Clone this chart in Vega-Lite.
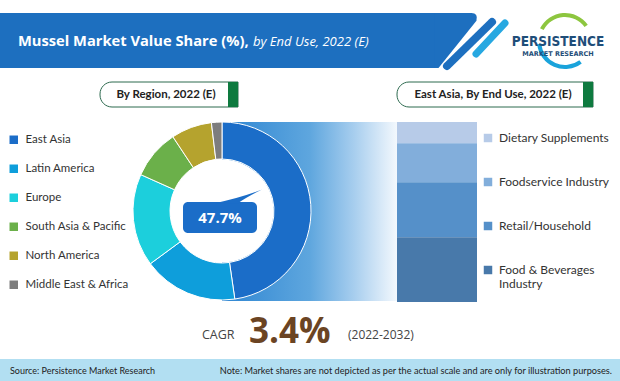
{
  "$schema": "https://vega.github.io/schema/vega-lite/v6.json",
  "width": 620,
  "height": 381,
  "autosize": "none",
  "padding": 0,
  "background": "white",
  "config": {"view": {"stroke": null}, "axis": {"disable": true}},
  "datasets": {
    "region": [
      {"region": "East Asia", "share": 47.7},
      {"region": "Latin America", "share": 17.2},
      {"region": "Europe", "share": 16.8},
      {"region": "South Asia & Pacific", "share": 9.0},
      {"region": "North America", "share": 7.4},
      {"region": "Middle East & Africa", "share": 1.9}
    ],
    "enduse": [
      {"use": "Dietary Supplements", "share": 11.8},
      {"use": "Foodservice Industry", "share": 21.7},
      {"use": "Retail/Household", "share": 30.5},
      {"use": "Food & Beverages Industry", "share": 36.0}
    ]
  },
  "layer": [
    {
      "layer": [
        {"data": {"values": [{}]}, "mark": {"type": "rect", "color": "#b2dff2"},
         "encoding": {"x": {"datum": 0, "type": "quantitative", "scale": {"domain": [0, 620], "range": [0, 620], "nice": false, "zero": false}}, "x2": {"datum": 620},
                      "y": {"datum": 359, "type": "quantitative", "scale": {"domain": [0, 381], "range": [0, 381], "nice": false, "zero": false}}, "y2": {"datum": 381}}},
        {"data": {"values": [{}]}, "mark": {"type": "rect", "color": "#1d6fbf"},
         "encoding": {"x": {"datum": 0, "type": "quantitative"}, "x2": {"datum": 437},
                      "y": {"datum": 13, "type": "quantitative"}, "y2": {"datum": 68}}},
        {"data": {"values": [{}]}, "mark": {"type": "point", "filled": true, "opacity": 1, "color": "#1d6fbf", "size": 3025, "strokeWidth": 0,
                  "shape": "M-0.75,-1 L0.6,-1 Q0.85,-1 0.78,-0.72 L-0.6,1 L-0.75,1 Z"},
         "encoding": {"x": {"datum": 455, "type": "quantitative"}, "y": {"datum": 40.5, "type": "quantitative"}}},
        {"data": {"values": [{}]}, "mark": {"type": "rule", "color": "#1d6fbf", "strokeWidth": 8, "strokeCap": "round"},
         "encoding": {"x": {"datum": 492, "type": "quantitative"}, "x2": {"datum": 447}, "y": {"datum": 22, "type": "quantitative"}, "y2": {"datum": 66}}},
        {"data": {"values": [{}]}, "mark": {"type": "rule", "color": "#27a8e1", "strokeWidth": 7, "strokeCap": "round"},
         "encoding": {"x": {"datum": 505, "type": "quantitative"}, "x2": {"datum": 476}, "y": {"datum": 23, "type": "quantitative"}, "y2": {"datum": 54}}},
        {"data": {"values": [{}]}, "mark": {"type": "arc", "color": "#8dc63f", "theta": -1.1, "theta2": 0.95, "innerRadius": 24, "outerRadius": 28},
         "encoding": {"x": {"datum": 565, "type": "quantitative"}, "y": {"datum": 41, "type": "quantitative"}}},
        {"data": {"values": [{}]}, "mark": {"type": "arc", "color": "#1aa3db", "theta": 2.5, "theta2": 4.6, "innerRadius": 24, "outerRadius": 28},
         "encoding": {"x": {"datum": 565, "type": "quantitative"}, "y": {"datum": 41, "type": "quantitative"}}},
        {"data": {"values": [{}]}, "mark": {"type": "text", "text": "PERSISTENCE", "font": "DejaVu Sans Condensed", "fontWeight": "bold", "fontSize": 13.5, "color": "#1f4e79", "align": "center", "baseline": "alphabetic"},
         "encoding": {"x": {"datum": 558, "type": "quantitative"}, "y": {"datum": 45.5, "type": "quantitative"}}},
        {"data": {"values": [{}]}, "mark": {"type": "text", "text": "MARKET RESEARCH", "font": "DejaVu Sans", "fontWeight": "bold", "fontSize": 6.5, "color": "#1f4e79", "align": "center", "baseline": "alphabetic"},
         "encoding": {"x": {"datum": 558, "type": "quantitative"}, "y": {"datum": 55.5, "type": "quantitative"}}},
        {"data": {"values": [{}]}, "mark": {"type": "text", "text": "Mussel Market Value Share (%),", "font": "Open Sans", "fontWeight": "bold", "fontSize": 14.7, "color": "white", "align": "left", "baseline": "alphabetic"},
         "encoding": {"x": {"datum": 18, "type": "quantitative"}, "y": {"datum": 46, "type": "quantitative"}}},
        {"data": {"values": [{}]}, "mark": {"type": "text", "text": "by End Use, 2022 (E)", "font": "Open Sans", "fontStyle": "italic", "fontSize": 13, "color": "white", "align": "left", "baseline": "alphabetic"},
         "encoding": {"x": {"datum": 253, "type": "quantitative"}, "y": {"datum": 46, "type": "quantitative"}}},
        {"data": {"values": [{}]}, "mark": {"type": "rect", "fill": "white", "stroke": "#2d6a4f", "strokeWidth": 1, "cornerRadiusTopLeft": 12, "cornerRadiusBottomLeft": 12},
         "encoding": {"x": {"datum": 100, "type": "quantitative"}, "x2": {"datum": 238}, "y": {"datum": 82, "type": "quantitative"}, "y2": {"datum": 107}}},
        {"data": {"values": [{}]}, "mark": {"type": "rect", "color": "#0e7a3f"},
         "encoding": {"x": {"datum": 228, "type": "quantitative"}, "x2": {"datum": 238}, "y": {"datum": 82, "type": "quantitative"}, "y2": {"datum": 107}}},
        {"data": {"values": [{}]}, "mark": {"type": "text", "text": "By Region, 2022 (E)", "font": "Lato", "fontWeight": "bold", "fontSize": 11.5, "color": "#222", "align": "center", "baseline": "middle"},
         "encoding": {"x": {"datum": 166, "type": "quantitative"}, "y": {"datum": 95, "type": "quantitative"}}},
        {"data": {"values": [{}]}, "mark": {"type": "rect", "fill": "white", "stroke": "#2d6a4f", "strokeWidth": 1, "cornerRadiusTopLeft": 12, "cornerRadiusBottomLeft": 12},
         "encoding": {"x": {"datum": 397, "type": "quantitative"}, "x2": {"datum": 593}, "y": {"datum": 82, "type": "quantitative"}, "y2": {"datum": 107}}},
        {"data": {"values": [{}]}, "mark": {"type": "rect", "color": "#0e7a3f"},
         "encoding": {"x": {"datum": 583, "type": "quantitative"}, "x2": {"datum": 593}, "y": {"datum": 82, "type": "quantitative"}, "y2": {"datum": 107}}},
        {"data": {"values": [{}]}, "mark": {"type": "text", "text": "East Asia, By End Use, 2022 (E)", "font": "Lato", "fontWeight": "bold", "fontSize": 11.5, "color": "#222", "align": "center", "baseline": "middle"},
         "encoding": {"x": {"datum": 493, "type": "quantitative"}, "y": {"datum": 95, "type": "quantitative"}}},
        {"data": {"values": [{}]}, "mark": {"type": "rect", "color": {"gradient": "linear", "x1": 0, "y1": 0, "x2": 1, "y2": 0,
                    "stops": [{"offset": 0, "color": "#2f86d2"}, {"offset": 0.5, "color": "#5ea6de"}, {"offset": 0.75, "color": "#a6cdee"}, {"offset": 1, "color": "#f3f8fd"}]}},
         "encoding": {"x": {"datum": 222, "type": "quantitative"}, "x2": {"datum": 397}, "y": {"datum": 122, "type": "quantitative"}, "y2": {"datum": 301}}},
        {"data": {"name": "region"},
         "mark": {"type": "arc", "outerRadius": 89, "innerRadius": 52, "stroke": "white", "strokeWidth": 1},
         "encoding": {
           "x": {"datum": 222, "type": "quantitative"},
           "y": {"datum": 211, "type": "quantitative"},
           "theta": {"field": "share", "type": "quantitative"},
           "order": {"field": "share", "type": "quantitative", "sort": "descending"},
           "color": {"field": "region", "type": "nominal",
             "scale": {"domain": ["East Asia", "Latin America", "Europe", "South Asia & Pacific", "North America", "Middle East & Africa"],
                       "range": ["#1b6dc8", "#0e9edb", "#1ccfdc", "#6bb04a", "#b5a32e", "#7d7d7d"]},
             "legend": {"orient": "none", "legendX": 8, "legendY": 134, "title": null, "padding": 0, "symbolType": "square", "symbolSize": 72, "symbolStrokeWidth": 0, "symbolOpacity": 1,
                        "labelFont": "Lato", "labelFontSize": 11.5, "labelColor": "#333", "labelOffset": 6, "rowPadding": 16}}
         }},
        {"data": {"values": [{}]}, "mark": {"type": "arc", "color": "white", "theta": 0, "theta2": 6.2832, "innerRadius": 0, "outerRadius": 51.5},
         "encoding": {"x": {"datum": 222, "type": "quantitative"}, "y": {"datum": 211, "type": "quantitative"}}},
        {"data": {"values": [{}]}, "mark": {"type": "rect", "color": "#1b6dc8", "cornerRadius": 5},
         "encoding": {"x": {"datum": 183, "type": "quantitative"}, "x2": {"datum": 257}, "y": {"datum": 202, "type": "quantitative"}, "y2": {"datum": 233}}},
        {"data": {"values": [{}]}, "mark": {"type": "point", "filled": true, "opacity": 1, "color": "#1b6dc8", "size": 2304, "strokeWidth": 0,
                  "shape": "M-0.96,0.3 Q0.2,0.05 1,-0.27 Q0.35,0.05 0,0.3 Z"},
         "encoding": {"x": {"datum": 238, "type": "quantitative"}, "y": {"datum": 196, "type": "quantitative"}}},
        {"data": {"values": [{}]}, "mark": {"type": "text", "text": "47.7%", "font": "Open Sans", "fontWeight": "bold", "fontSize": 15, "color": "white", "align": "center", "baseline": "middle"},
         "encoding": {"x": {"datum": 220, "type": "quantitative"}, "y": {"datum": 218, "type": "quantitative"}}},
        {"data": {"values": [{}]}, "mark": {"type": "text", "text": "CAGR", "font": "Open Sans", "fontSize": 12.5, "color": "#444", "align": "left", "baseline": "alphabetic"},
         "encoding": {"x": {"datum": 202, "type": "quantitative"}, "y": {"datum": 339, "type": "quantitative"}}},
        {"data": {"values": [{}]}, "mark": {"type": "text", "text": "3.4%", "font": "Open Sans", "fontWeight": "bold", "fontSize": 35, "color": "#6b4423", "align": "left", "baseline": "alphabetic"},
         "encoding": {"x": {"datum": 249, "type": "quantitative"}, "y": {"datum": 343, "type": "quantitative"}}},
        {"data": {"values": [{}]}, "mark": {"type": "text", "text": "(2022-2032)", "font": "Open Sans", "fontSize": 12, "color": "#444", "align": "left", "baseline": "alphabetic"},
         "encoding": {"x": {"datum": 348, "type": "quantitative"}, "y": {"datum": 339, "type": "quantitative"}}},
        {"data": {"values": [{}]}, "mark": {"type": "text", "text": "Source: Persistence Market Research", "font": "Lato", "fontSize": 9, "color": "#222", "align": "left", "baseline": "middle"},
         "encoding": {"x": {"datum": 10, "type": "quantitative"}, "y": {"datum": 371, "type": "quantitative"}}},
        {"data": {"values": [{}]}, "mark": {"type": "text", "text": "Note: Market shares are not depicted as per the actual scale and are only for illustration purposes.", "font": "Lato", "fontSize": 9.2, "color": "#222", "align": "right", "baseline": "middle"},
         "encoding": {"x": {"datum": 612, "type": "quantitative"}, "y": {"datum": 371, "type": "quantitative"}}}
      ]
    },
    {
      "data": {"name": "enduse"},
      "transform": [{"stack": "share", "groupby": [], "sort": [{"field": "share", "order": "descending"}], "as": ["lo", "hi"]}],
      "mark": {"type": "rect"},
      "encoding": {
        "x": {"datum": 397, "type": "quantitative"},
        "x2": {"datum": 477},
        "y": {"field": "lo", "type": "quantitative", "scale": {"domain": [0, 100], "range": [302, 122], "nice": false, "zero": false}},
        "y2": {"field": "hi"},
        "color": {"field": "use", "type": "nominal",
          "scale": {"domain": ["Dietary Supplements", "Foodservice Industry", "Retail/Household", "Food & Beverages Industry"],
                    "range": ["#b7cbe8", "#82aedb", "#5590c9", "#4879aa"]},
          "legend": {"orient": "none", "legendX": 482, "legendY": 132, "title": null, "padding": 0, "symbolType": "square", "symbolSize": 72, "symbolStrokeWidth": 0, "symbolOpacity": 1,
                     "labelFont": "Lato", "labelFontSize": 12, "labelColor": "#333", "labelOffset": 5, "rowPadding": 32, "labelLimit": 200,
                     "labelExpr": "datum.label == 'Food & Beverages Industry' ? ['Food & Beverages', 'Industry'] : datum.label"}}
      }
    }
  ],
  "resolve": {"scale": {"y": "independent", "color": "independent"}}
}
